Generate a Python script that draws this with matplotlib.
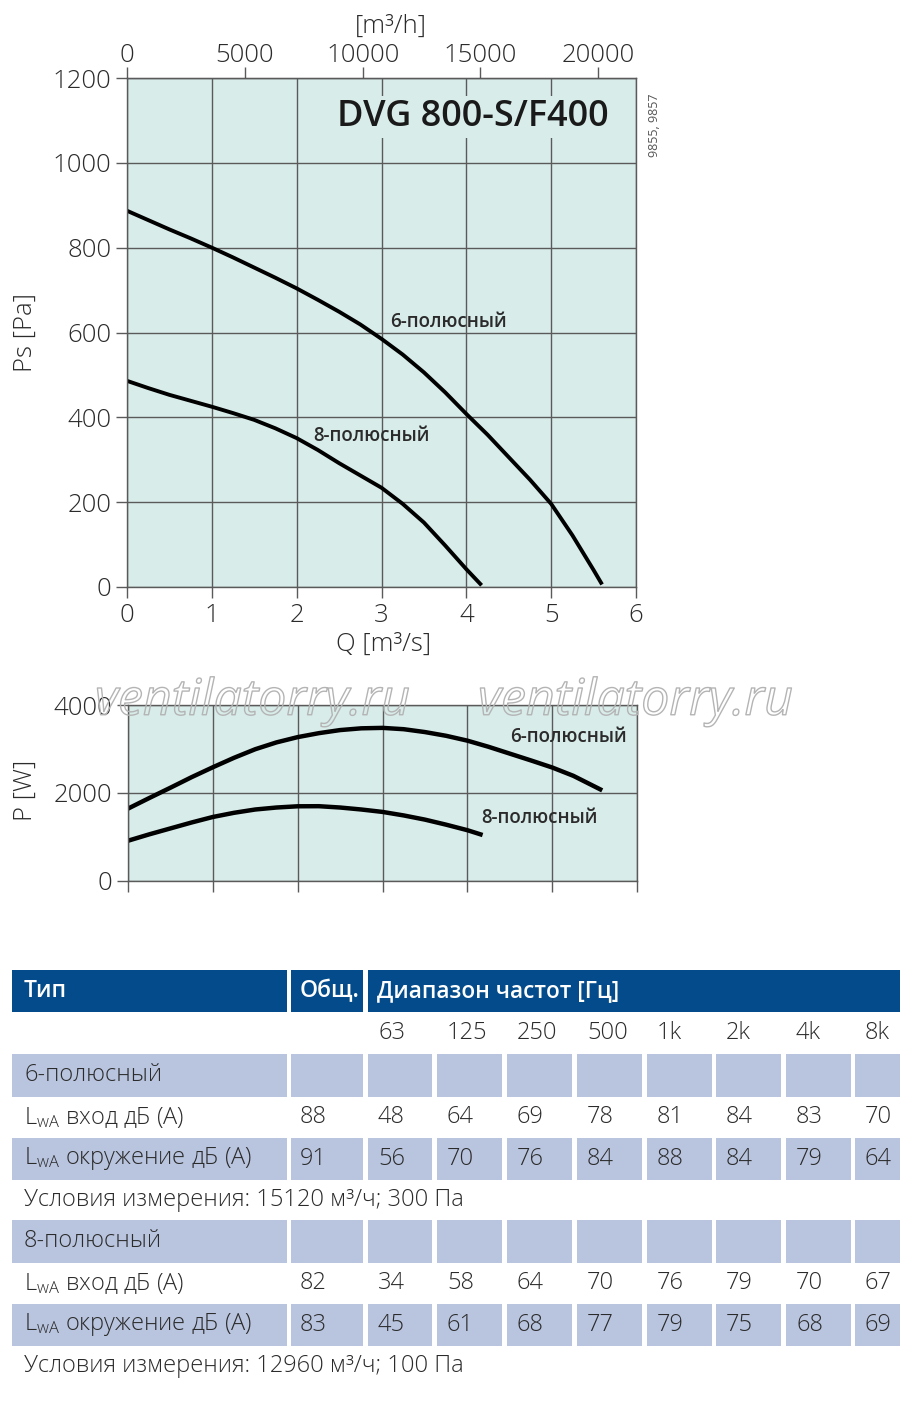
import matplotlib
matplotlib.use("Agg")
import matplotlib.pyplot as plt
import matplotlib.patheffects as pe
from matplotlib.patches import Rectangle

plt.rcParams['font.family'] = ['Open Sans', 'DejaVu Sans']
plt.rcParams['mathtext.fontset'] = 'custom'
plt.rcParams['mathtext.rm'] = 'Open Sans'
plt.rcParams['mathtext.it'] = 'Open Sans'

W, H = 900, 1405
BG = '#d8ecea'
GRID = '#5a5a5a'
TXT = '#2b2b2b'
BLUE = '#034b8a'
SHADE = '#b9c5df'

# --- fan curves Ps(Q) ---
q6 = [0, 0.25, 0.5, 0.75, 1, 1.25, 1.5, 1.75, 2, 2.25, 2.5, 2.75, 3, 3.25, 3.5,
      3.75, 4, 4.25, 4.5, 4.75, 5, 5.25, 5.5, 5.6]
ps6 = [887, 865, 843, 822, 800, 777, 753, 729, 704, 677, 649, 619, 585, 548, 506,
       459, 408, 359, 306, 253, 196, 122, 40, 6]
q8 = [0, 0.25, 0.5, 0.75, 1, 1.25, 1.5, 1.75, 2, 2.25, 2.5, 2.75, 3, 3.25, 3.5,
      3.75, 4, 4.18]
ps8 = [486, 469, 453, 439, 425, 410, 394, 374, 351, 323, 292, 263, 234, 196, 152,
       98, 42, 4]

# --- power curves P(Q) ---
qp6 = [0, 0.25, 0.5, 0.75, 1, 1.25, 1.5, 1.75, 2, 2.25, 2.5, 2.75, 3, 3.25, 3.5,
       3.75, 4, 4.25, 4.5, 4.75, 5, 5.25, 5.59]
p6 = [1645, 1885, 2120, 2360, 2585, 2800, 2995, 3150, 3270, 3360, 3430, 3470, 3480,
      3450, 3385, 3300, 3190, 3050, 2895, 2740, 2580, 2390, 2060]
qp8 = [0, 0.25, 0.5, 0.75, 1, 1.25, 1.5, 1.75, 2, 2.25, 2.5, 2.75, 3, 3.25, 3.5,
       3.75, 4, 4.18]
p8 = [915, 1060, 1195, 1330, 1455, 1550, 1625, 1670, 1698, 1700, 1670, 1625, 1570,
      1490, 1395, 1280, 1155, 1045]

# --- sound table ---
freqs = ['63', '125', '250', '500', '1k', '2k', '4k', '8k']
inlet6 = [88, 48, 64, 69, 78, 81, 84, 83, 70]
surr6 = [91, 56, 70, 76, 84, 88, 84, 79, 64]
inlet8 = [82, 34, 58, 64, 70, 76, 79, 70, 67]
surr8 = [83, 45, 61, 68, 77, 79, 75, 68, 69]
cond6 = 'Условия измерения: 15120 м³/ч; 300 Па'
cond8 = 'Условия измерения: 12960 м³/ч; 100 Па'


def box(l, t, r, b):
    return [l / W, 1 - b / H, (r - l) / W, (b - t) / H]


fig = plt.figure(figsize=(9, 14.05), dpi=100)

# table / background layer
tab = fig.add_axes([0, 0, 1, 1])
tab.set_xlim(0, W)
tab.set_ylim(H, 0)
tab.axis('off')

TFS = 18.5


def style(ax):
    ax.set_facecolor(BG)
    ax.set_xlim(0, 6)
    ax.set_xticks(range(7))
    ax.grid(True, color=GRID, lw=1)
    ax.set_axisbelow(True)
    for s in ax.spines.values():
        s.set_color(GRID)
        s.set_linewidth(1)
    ax.tick_params(colors=GRID, labelcolor=TXT, labelsize=TFS, length=8, width=1)


# top chart: Ps vs Q
ax = fig.add_axes(box(127, 78, 636, 587))
style(ax)
ax.set_ylim(0, 1200)
ax.set_yticks(range(0, 1201, 200))
ax.plot(q6, ps6, color='black', lw=2.8, solid_capstyle='butt', solid_joinstyle='round')
ax.plot(q8, ps8, color='black', lw=2.8, solid_capstyle='butt', solid_joinstyle='round')
ax.text(3.1, 625, '6-полюсный', fontsize=13.5, weight='semibold', color=TXT, va='center')
ax.text(2.2, 356, '8-полюсный', fontsize=13.5, weight='semibold', color=TXT, va='center')
ax.text(0.947, 0.923, 'DVG 800-S/F400', transform=ax.transAxes, ha='right', va='center',
        fontsize=26, weight='semibold', color='#1a1a1a',
        bbox=dict(facecolor=BG, edgecolor='none', pad=2))
ax.text(1.037, 0.908, '9855, 9857', transform=ax.transAxes, rotation=90, ha='center',
        va='center', fontsize=9, color='#555555')
ax.set_xlabel('Q [m³/s]', fontsize=TFS, color=TXT, weight='light')
ax.xaxis.set_label_coords(0.505, -0.088)
ax.set_ylabel('Ps [Pa]', fontsize=TFS, color=TXT, weight='light')
ax.yaxis.set_label_coords(-0.175, 0.5)
for lab in ax.get_xticklabels() + ax.get_yticklabels():
    lab.set_fontweight('light')

top = ax.secondary_xaxis('top', functions=(lambda q: q * 3600, lambda h: h / 3600))
top.set_xticks(range(0, 20001, 5000))
top.tick_params(colors=GRID, labelcolor=TXT, labelsize=TFS, length=8, width=1, pad=-1)
for lab in top.get_xticklabels():
    lab.set_fontweight('light')
ax.text(0.519, 1.102, '[m³/h]', transform=ax.transAxes, ha='center', va='center',
        fontsize=TFS, color=TXT, weight='light')

# bottom chart: P vs Q
bx = fig.add_axes(box(128, 705, 637, 881))
style(bx)
bx.set_ylim(0, 4000)
bx.set_yticks([0, 2000, 4000])
bx.tick_params(axis='x', labelbottom=False)
bx.plot(qp6, p6, color='black', lw=3.2, solid_capstyle='butt', solid_joinstyle='round')
bx.plot(qp8, p8, color='black', lw=3.2, solid_capstyle='butt', solid_joinstyle='round')
bx.text(4.5, 3273, '6-полюсный', fontsize=13.5, weight='semibold', color=TXT, va='center')
bx.text(4.16, 1432, '8-полюсный', fontsize=13.5, weight='semibold', color=TXT, va='center')
bx.set_ylabel('P [W]', fontsize=TFS, color=TXT, weight='light')
bx.yaxis.set_label_coords(-0.177, 0.517)
for lab in bx.get_yticklabels():
    lab.set_fontweight('light')

# watermark
for xw in (95, 478):
    fig.text(xw / W, 1 - 702 / H, 'ventilatorry.ru', fontsize=36, style='italic',
             color=(1, 1, 1, 0), va='center', ha='left',
             path_effects=[pe.Stroke(linewidth=1, foreground='#b4b4b4')])

# table
cols = [(12, 287), (291, 363), (368, 432), (437, 502), (507, 572), (577, 642),
        (647, 712), (716, 781), (786, 851), (855, 900)]
tfs = 17


def shaded(top_y, bot_y):
    for l, r in cols:
        tab.add_patch(Rectangle((l, top_y), r - l, bot_y - top_y, color=SHADE, lw=0))


for l, r in [(12, 287), (291, 363), (368, 900)]:
    tab.add_patch(Rectangle((l, 970), r - l, 42, color=BLUE, lw=0))
tab.text(24, 991, 'Тип', color='white', fontsize=16.5, weight='semibold', va='center')
tab.text(300, 991, 'Общ.', color='white', fontsize=16.5, weight='semibold', va='center')
tab.text(377, 991, 'Диапазон частот [Гц]', color='white', fontsize=16.3, weight='semibold',
         va='center')

for i, f in enumerate(freqs):
    tab.text(cols[i + 2][0] + 10, 1033, f, fontsize=tfs, color=TXT, weight='light', va='center')


def block(y0, name, inlet, surr, cond):
    shaded(y0, y0 + 43)
    tab.text(24, y0 + 21, name, fontsize=tfs, color=TXT, weight='light', va='center')
    tab.text(24, y0 + 63, r'L$_{\mathregular{wA}}$ вход дБ (A)', fontsize=tfs, color=TXT,
             weight='light', va='center')
    shaded(y0 + 84, y0 + 126)
    tab.text(24, y0 + 105, r'L$_{\mathregular{wA}}$ окружение дБ (A)', fontsize=tfs, color=TXT,
             weight='light', va='center')
    for j, v in enumerate(inlet):
        x = 300 if j == 0 else cols[j + 1][0] + 10
        tab.text(x, y0 + 63, str(v), fontsize=tfs, color=TXT, weight='light', va='center')
    for j, v in enumerate(surr):
        x = 300 if j == 0 else cols[j + 1][0] + 10
        tab.text(x, y0 + 105, str(v), fontsize=tfs, color=TXT, weight='light', va='center')
    tab.text(24, y0 + 146, cond, fontsize=tfs, color=TXT, weight='light', va='center')


block(1054, '6-полюсный', inlet6, surr6, cond6)
block(1220, '8-полюсный', inlet8, surr8, cond8)

fig.savefig('out.png', dpi=100)
